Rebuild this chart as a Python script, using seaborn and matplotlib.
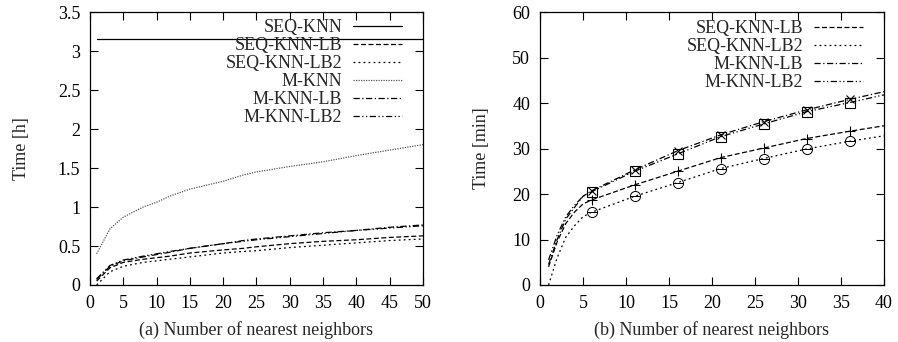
import numpy as np
import pandas as pd
import matplotlib
matplotlib.use('Agg')
import matplotlib.pyplot as plt
import seaborn as sns

# panel (a): time in hours
k_a = [1, 3, 5, 8, 10, 12, 15, 20, 23, 25, 30, 35, 40, 45, 50]
seq_knn_a = [3.16] * len(k_a)
seq_knn_lb_a = [0.05, 0.22, 0.29, 0.33, 0.35, 0.37, 0.41, 0.45, 0.47, 0.49, 0.53, 0.56, 0.58, 0.61, 0.63]
seq_knn_lb2_a = [0.0, 0.17, 0.24, 0.29, 0.31, 0.33, 0.36, 0.41, 0.43, 0.44, 0.48, 0.51, 0.54, 0.57, 0.59]
m_knn_a = [0.40, 0.72, 0.87, 1.00, 1.06, 1.14, 1.23, 1.33, 1.41, 1.45, 1.52, 1.58, 1.66, 1.73, 1.80]
m_knn_lb_a = [0.07, 0.24, 0.31, 0.36, 0.39, 0.42, 0.47, 0.53, 0.57, 0.59, 0.63, 0.67, 0.70, 0.74, 0.77]
m_knn_lb2_a = [0.08, 0.25, 0.32, 0.37, 0.40, 0.43, 0.47, 0.53, 0.56, 0.58, 0.62, 0.66, 0.70, 0.73, 0.76]

# panel (b): time in minutes
k_b = [1, 2, 3, 4, 5, 6, 11, 16, 21, 26, 31, 36, 40]
seq_knn_lb_b = [4.0, 9.5, 13.5, 16.0, 17.8, 18.7, 22.0, 25.0, 28.0, 30.1, 32.2, 33.8, 35.0]
seq_knn_lb2_b = [0.0, 6.0, 10.5, 13.0, 15.0, 16.0, 19.5, 22.5, 25.6, 27.8, 29.9, 31.6, 32.8]
m_knn_lb_b = [4.5, 10.0, 14.5, 17.0, 19.5, 20.7, 25.3, 29.5, 33.0, 35.9, 38.5, 40.8, 42.5]
m_knn_lb2_b = [5.5, 11.0, 15.0, 17.5, 19.5, 20.5, 25.0, 28.8, 32.6, 35.4, 38.1, 40.1, 41.8]

sns.set_style("ticks")
plt.rcParams['font.family'] = ['Liberation Serif', 'DejaVu Serif']
plt.rcParams['mathtext.fontset'] = 'stix'

styles = {
    'SEQ-KNN': dict(ls='-', color='black'),
    'SEQ-KNN-LB': dict(ls=(0, (4, 2)), color='black'),
    'SEQ-KNN-LB2': dict(ls=(0, (1.5, 2.5)), color='black'),
    'M-KNN': dict(ls=(0, (1, 1)), color='#555555'),
    'M-KNN-LB': dict(ls=(0, (5, 2, 1, 2)), color='black'),
    'M-KNN-LB2': dict(ls=(0, (5, 2, 1, 2, 1, 2)), color='black'),
}
# marker, size, edge width, face colour
markers_b = {'SEQ-KNN-LB': ('+', 7, 0.8, 'none'), 'SEQ-KNN-LB2': (r'$\ominus$', 8, 0.0, 'black'),
             'M-KNN-LB': ('x', 6, 0.8, 'none'), 'M-KNN-LB2': ('s', 6.5, 0.8, 'none')}

fig = plt.figure(figsize=(8.98, 3.42), dpi=100)
ax1 = fig.add_axes([0.1002, 0.1667, 0.3708, 0.798])
ax2 = fig.add_axes([0.6013, 0.1667, 0.3831, 0.798])

series_a = {'SEQ-KNN': seq_knn_a, 'SEQ-KNN-LB': seq_knn_lb_a, 'SEQ-KNN-LB2': seq_knn_lb2_a,
            'M-KNN': m_knn_a, 'M-KNN-LB': m_knn_lb_a, 'M-KNN-LB2': m_knn_lb2_a}
for name, vals in series_a.items():
    sns.lineplot(x=k_a, y=vals, ax=ax1, label=name, lw=0.9, **styles[name])

series_b = {'SEQ-KNN-LB': seq_knn_lb_b, 'SEQ-KNN-LB2': seq_knn_lb2_b,
            'M-KNN-LB': m_knn_lb_b, 'M-KNN-LB2': m_knn_lb2_b}
for name, vals in series_b.items():
    mk, ms, mw, fc = markers_b[name]
    sns.lineplot(x=k_b, y=vals, ax=ax2, label=name, lw=0.9, marker=mk,
                 markevery=slice(5, 12), markersize=ms, mfc=fc, mec='black', mew=mw,
                 **styles[name])

for ax, xlim, ylim, xt, yt, xl, yl, ylpad, anchor in [
        (ax1, (0, 50), (0, 3.5), np.arange(0, 51, 5), np.arange(0, 3.51, 0.5),
         '(a) Number of nearest neighbors', 'Time [h]', 20, (1 - 21 / 333, 1 - 7 / 273)),
        (ax2, (0, 40), (0, 60), np.arange(0, 41, 5), np.arange(0, 61, 10),
         '(b) Number of nearest neighbors', 'Time [min]', 16, (1 - 21 / 344, 1 - 8 / 273))]:
    ax.set_xlim(*xlim)
    ax.set_ylim(*ylim)
    ax.set_xticks(xt)
    ax.set_yticks(yt)
    ax.set_yticklabels([('%g' % v) for v in yt])
    ax.set_xlabel(xl, fontsize=13, labelpad=7)
    ax.set_ylabel(yl, fontsize=13, labelpad=ylpad)
    ax.tick_params(direction='in', length=6, width=0.8, top=True, right=True,
                   labelsize=13, pad=7, colors='black')
    for s in ax.spines.values():
        s.set_visible(True)
        s.set_linewidth(0.9)
        s.set_color('black')
    leg = ax.legend(loc='upper right', bbox_to_anchor=anchor, frameon=False, markerfirst=False,
                    fontsize=13, handlelength=2.7, labelspacing=0.06, handletextpad=0.6,
                    borderaxespad=0.0, borderpad=0.0)
    for h in leg.legend_handles:
        h.set_marker('None')

fig.savefig('out.png', dpi=100)
